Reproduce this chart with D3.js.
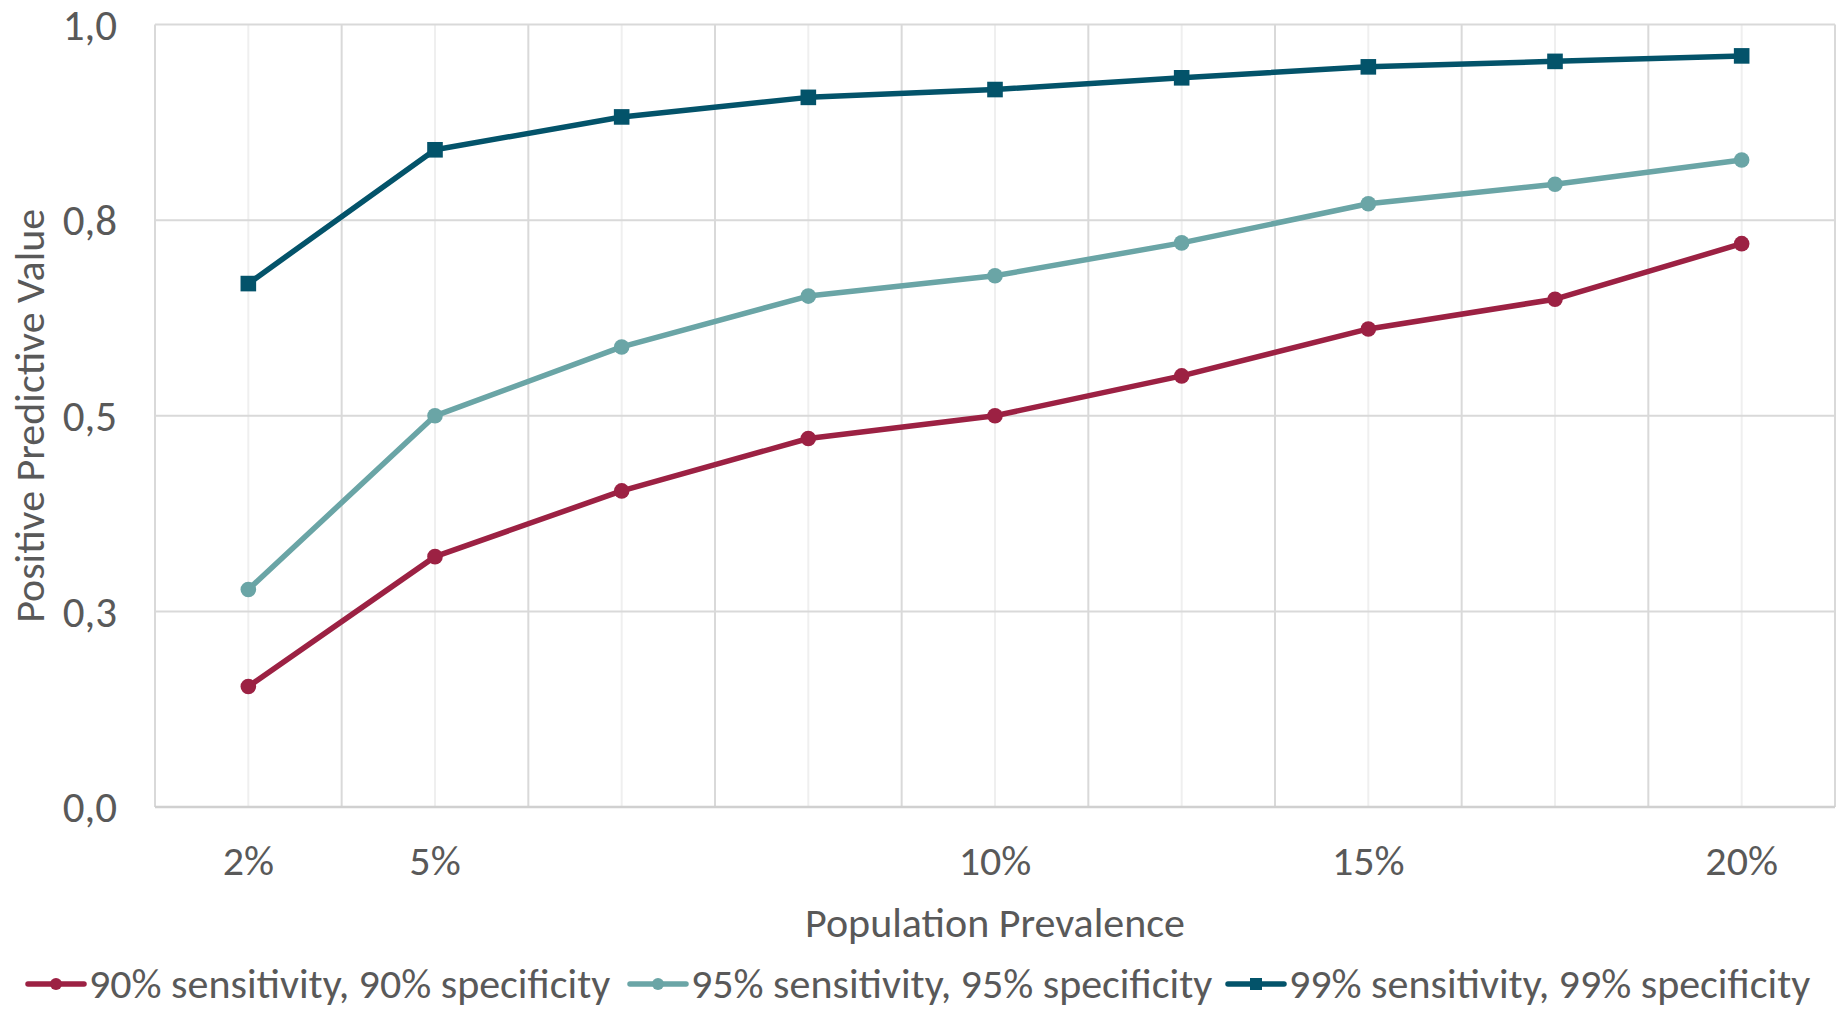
<!DOCTYPE html>
<html>
<head>
<meta charset="utf-8">
<script src="https://cdn.jsdelivr.net/npm/d3@7"></script>
<style>
  body { margin: 0; background: #fff; }
  svg text { font-family: Carlito, "Liberation Sans Narrow", "Open Sans", sans-serif; fill: #595959; }
</style>
</head>
<body>
<svg id="chart" width="1839" height="1011"></svg>
<script>
// Tick labels along the category axis (blank where the original shows none).
var categories = ["2%", "5%", "", "", "10%", "", "15%", "", "20%"];

// Positive predictive value for each prevalence step.
var ppv90 = [0.154, 0.320, 0.404, 0.471, 0.500, 0.551, 0.611, 0.649, 0.720];
var ppv95 = [0.278, 0.500, 0.588, 0.653, 0.679, 0.721, 0.771, 0.796, 0.827];
var ppv99 = [0.669, 0.840, 0.882, 0.907, 0.917, 0.932, 0.946, 0.953, 0.960];

var yTicks = [0, 0.25, 0.5, 0.75, 1];
var yTickLabels = ["0,0", "0,3", "0,5", "0,8", "1,0"];

var seriesNames = [
  "90% sensitivity, 90% specificity",
  "95% sensitivity, 95% specificity",
  "99% sensitivity, 99% specificity"
];

var series = [
  {name: seriesNames[0], values: ppv90, color: "#9c2143", marker: "circle"},
  {name: seriesNames[1], values: ppv95, color: "#6aa5a6", marker: "circle"},
  {name: seriesNames[2], values: ppv99, color: "#03536a", marker: "square"}
];

var margin = {top: 24.6, right: 4, bottom: 204, left: 155};
var width = 1839 - margin.left - margin.right;
var height = 1011 - margin.top - margin.bottom;

var svg = d3.select("#chart");
var g = svg.append("g").attr("transform", "translate(" + margin.left + "," + margin.top + ")");

var x = d3.scaleBand().domain(d3.range(categories.length)).range([0, width]).padding(0);
var y = d3.scaleLinear().domain([0, 1]).range([height, 0]);

// Minor vertical gridlines at category centres.
g.selectAll(".minor").data(d3.range(categories.length)).enter()
  .append("line").attr("class", "minor")
  .attr("x1", function(d) { return x(d) + x.bandwidth() / 2; })
  .attr("x2", function(d) { return x(d) + x.bandwidth() / 2; })
  .attr("y1", 0).attr("y2", height)
  .style("stroke", "#efefef").style("stroke-width", 2);

// Major vertical gridlines at category boundaries.
g.selectAll(".major").data(d3.range(categories.length + 1)).enter()
  .append("line").attr("class", "major")
  .attr("x1", function(d) { return d * x.step(); })
  .attr("x2", function(d) { return d * x.step(); })
  .attr("y1", 0).attr("y2", height)
  .style("stroke", "#d9d9d9").style("stroke-width", 2);

// Horizontal gridlines.
g.selectAll(".hgrid").data(yTicks).enter()
  .append("line").attr("class", "hgrid")
  .attr("x1", 0).attr("x2", width)
  .attr("y1", function(d) { return y(d); })
  .attr("y2", function(d) { return y(d); })
  .style("stroke", function(d) { return d === 0 ? "#d0d0d0" : "#d9d9d9"; })
  .style("stroke-width", function(d) { return d === 0 ? 2.5 : 2; });

// Y axis labels.
var yAxis = d3.axisLeft(y).tickValues(yTicks)
  .tickFormat(function(d, i) { return yTickLabels[i]; })
  .tickSize(0).tickPadding(38);
var yg = g.append("g").call(yAxis);
yg.select(".domain").remove();
yg.selectAll("text").style("font-size", "43px").attr("dy", "0.34em");

// X axis labels.
var xAxis = d3.axisBottom(x).tickFormat(function(d) { return categories[d]; })
  .tickSize(0).tickPadding(38);
var xg = g.append("g").attr("transform", "translate(0," + height + ")").call(xAxis);
xg.select(".domain").remove();
xg.selectAll("text").style("font-size", "42px");

// Axis titles.
svg.append("text")
  .attr("transform", "translate(29," + (margin.top + height / 2) + ") rotate(-90)")
  .attr("text-anchor", "middle").attr("dy", "0.35em")
  .style("font-size", "42px")
  .text("Positive Predictive Value");

svg.append("text")
  .attr("x", margin.left + x(4) + x.bandwidth() / 2).attr("y", 922)
  .attr("text-anchor", "middle").attr("dy", "0.35em")
  .style("font-size", "42px")
  .text("Population Prevalence");

// Lines and markers.
var line = d3.line()
  .x(function(d, i) { return x(i) + x.bandwidth() / 2; })
  .y(function(d) { return y(d); });

series.forEach(function(s) {
  g.append("path").datum(s.values)
    .attr("d", line)
    .style("fill", "none").style("stroke", s.color)
    .style("stroke-width", 5.5).style("stroke-linejoin", "round");

  if (s.marker === "circle") {
    g.selectAll(null).data(s.values).enter().append("circle")
      .attr("cx", function(d, i) { return x(i) + x.bandwidth() / 2; })
      .attr("cy", function(d) { return y(d); })
      .attr("r", 7.8).style("fill", s.color);
  } else {
    g.selectAll(null).data(s.values).enter().append("rect")
      .attr("x", function(d, i) { return x(i) + x.bandwidth() / 2 - 7.8; })
      .attr("y", function(d) { return y(d) - 7.8; })
      .attr("width", 15.6).attr("height", 15.6).style("fill", s.color);
  }
});

// Legend.
var legendX = [28, 630, 1228];
var legendY = 984;
series.forEach(function(s, i) {
  var lg = svg.append("g").attr("transform", "translate(" + legendX[i] + "," + legendY + ")");
  lg.append("line").attr("x1", 0).attr("x2", 56).attr("y1", 0).attr("y2", 0)
    .style("stroke", s.color).style("stroke-width", 5.5).style("stroke-linecap", "round");
  if (s.marker === "circle") {
    lg.append("circle").attr("cx", 28).attr("cy", 0).attr("r", 6).style("fill", s.color);
  } else {
    lg.append("rect").attr("x", 22).attr("y", -6).attr("width", 12).attr("height", 12).style("fill", s.color);
  }
  lg.append("text").attr("x", 61).attr("dy", "0.33em")
    .style("font-size", "42px").text(s.name);
});
</script>
</body>
</html>
